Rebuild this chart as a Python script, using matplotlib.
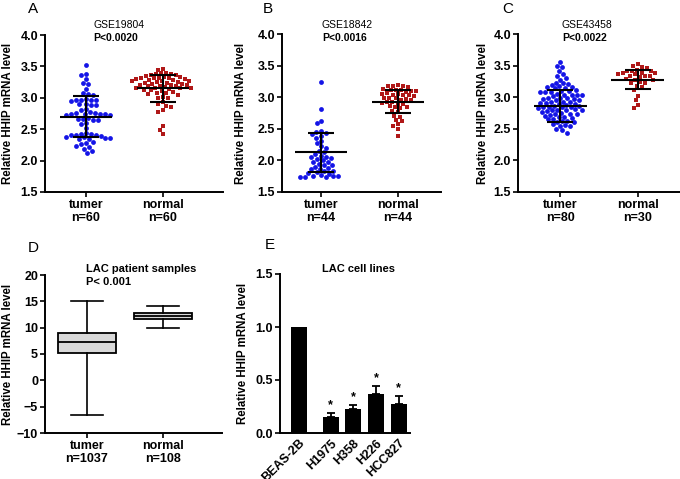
import numpy as np
import matplotlib
matplotlib.use("Agg")
import matplotlib.pyplot as plt

# figure size in pixels (dpi 100)
W, H = 680, 479
plt.rcParams['font.family'] = ['Liberation Sans', 'DejaVu Sans']
plt.rcParams['font.weight'] = 'bold'

BLUE = "#1414e6"
RED = "#b01818"

# ---------------- data ----------------
groups = ["tumer", "normal"]

# A: GSE19804
A_counts = ["n=60", "n=60"]
A_tumer = [3.53, 3.38, 3.36, 3.30, 3.24, 3.22, 3.14, 3.08, 3.06, 3.04,
           2.98, 2.97, 2.97, 2.96, 2.96, 2.95, 2.90, 2.90, 2.89, 2.88,
           2.82, 2.80, 2.77, 2.76, 2.76, 2.75, 2.75, 2.74, 2.74, 2.73,
           2.72, 2.68, 2.67, 2.66, 2.65, 2.64, 2.60, 2.59, 2.52, 2.44,
           2.43, 2.42, 2.41, 2.40, 2.40, 2.39, 2.38, 2.37, 2.36, 2.36,
           2.35, 2.34, 2.30, 2.28, 2.26, 2.24, 2.22, 2.18, 2.16, 2.12]
A_normal = [3.46, 3.45,
            3.40, 3.39, 3.38, 3.38, 3.37, 3.36,
            3.34, 3.33, 3.33, 3.32, 3.32, 3.31, 3.31, 3.30, 3.30,
            3.28, 3.28, 3.27, 3.27, 3.26, 3.25, 3.25, 3.24, 3.24,
            3.22, 3.22, 3.21, 3.20, 3.20, 3.19, 3.18, 3.18, 3.17,
            3.16, 3.16, 3.15, 3.15, 3.14, 3.13, 3.12, 3.11,
            3.09, 3.08, 3.07, 3.06, 3.05,
            3.01, 3.00, 2.99,
            2.93, 2.90, 2.87, 2.85, 2.80, 2.78,
            2.55, 2.49, 2.43]
A_mean = [2.70, 3.15]
A_sd = [0.325, 0.21]

# B: GSE18842
B_counts = ["n=44", "n=44"]
B_tumer = [3.24, 2.82, 2.62, 2.59, 2.46, 2.45, 2.44, 2.42, 2.38, 2.36, 2.30,
           2.27, 2.22, 2.20, 2.15, 2.13, 2.10, 2.07, 2.06, 2.05, 2.04, 2.02,
           2.00, 1.98, 1.97, 1.95, 1.93, 1.92, 1.90, 1.88, 1.87, 1.86, 1.84,
           1.83, 1.81, 1.80, 1.79, 1.77, 1.76, 1.76, 1.75, 1.74, 1.74, 1.73]
B_normal = [3.19, 3.18, 3.18, 3.17, 3.16,
            3.13, 3.12, 3.11, 3.11, 3.10, 3.10, 3.09,
            3.06, 3.05, 3.05, 3.04, 3.03, 3.03, 3.02,
            2.99, 2.98, 2.98, 2.97, 2.96, 2.96,
            2.93, 2.92, 2.91, 2.90, 2.89,
            2.86, 2.85, 2.84, 2.83,
            2.78, 2.76, 2.71, 2.69, 2.64, 2.62, 2.57, 2.55, 2.49, 2.39]
B_mean = [2.13, 2.93]
B_sd = [0.31, 0.18]

# C: GSE43458
C_counts = ["n=80", "n=30"]
C_tumer = [3.56, 3.50, 3.47, 3.41, 3.36, 3.34, 3.30, 3.28,
           3.23, 3.22, 3.21, 3.20, 3.17, 3.16, 3.16, 3.15, 3.14,
           3.11, 3.10, 3.10, 3.09, 3.09, 3.08,
           3.05, 3.04, 3.04, 3.03, 3.03, 3.02,
           2.99, 2.98, 2.98, 2.97, 2.97, 2.96, 2.95,
           2.93, 2.92, 2.92, 2.91, 2.91, 2.90, 2.89,
           2.87, 2.86, 2.86, 2.85, 2.85, 2.84, 2.84, 2.83,
           2.81, 2.80, 2.80, 2.79, 2.79, 2.78, 2.77,
           2.75, 2.74, 2.74, 2.73, 2.72, 2.71,
           2.69, 2.68, 2.67, 2.66, 2.65,
           2.63, 2.62, 2.61, 2.60,
           2.57, 2.56, 2.55, 2.54,
           2.50, 2.48, 2.44]
C_normal = [3.52, 3.50, 3.47, 3.46, 3.43, 3.42, 3.42, 3.41, 3.39, 3.38,
            3.38, 3.37, 3.36, 3.34, 3.33, 3.33, 3.32, 3.29, 3.28, 3.27,
            3.24, 3.23, 3.22, 3.18, 3.16, 3.12, 3.02, 2.95, 2.88, 2.83]
C_mean = [2.86, 3.28]
C_sd = [0.25, 0.15]

# D: LAC patient samples (box plot)
D_counts = ["n=1037", "n=108"]
D_whislo = [-6.6, 10.0]
D_q1 = [5.2, 11.7]
D_med = [7.2, 12.2]
D_q3 = [9.0, 12.8]
D_whishi = [15.1, 14.1]

# E: LAC cell lines (bar chart)
E_lines = ["BEAS-2B", "H1975", "H358", "H226", "HCC827"]
E_values = [1.0, 0.155, 0.225, 0.365, 0.27]
E_err = [0.0, 0.032, 0.04, 0.078, 0.078]
E_star = [False, True, True, True, True]

# ---------------- layout helpers ----------------
fig = plt.figure(figsize=(W / 100, H / 100), dpi=100)


def px_axes(left, top, right, bottom):
    return fig.add_axes([left / W, 1 - bottom / H, (right - left) / W, (bottom - top) / H])


def px_text(x, y, s, **kw):
    fig.text(x / W, 1 - y / H, s, **kw)


def style_axes(ax, ylabel_x_px, left_px, width_px):
    for side in ("top", "right"):
        ax.spines[side].set_visible(False)
    for side in ("left", "bottom"):
        ax.spines[side].set_linewidth(1.4)
    ax.tick_params(axis="both", direction="out", length=3.5, width=1.2, pad=1.5,
                   labelsize=9)
    ax.set_ylabel("Relative HHIP mRNA level", fontsize=8.3, fontweight="bold")
    # label x is the right edge of the rotated text
    ax.yaxis.set_label_coords((ylabel_x_px - left_px) / width_px, 0.5)


def swarm_offsets(vals, ypx, xpx, d):
    """simple beeswarm: x offsets (data units) so dots don't overlap"""
    vals = np.asarray(vals, dtype=float)
    offs = np.zeros(len(vals))
    placed = []
    cands = sorted(np.arange(-40, 40.5, 0.5), key=lambda c: (abs(c), c))
    for i in np.argsort(vals)[::-1]:
        y = vals[i] * ypx
        for c in cands:
            if all((c - px) ** 2 + (y - py) ** 2 >= d * d for px, py in placed):
                break
        offs[i] = c / xpx
        placed.append((c, y))
    return offs


def scatter_panel(box, xlim, tumer, normal, means, sds, counts, ylabel_x):
    left, top, right, bottom = box
    ax = px_axes(*box)
    ax.set_ylim(1.5, 4.0)
    ax.set_xlim(*xlim)
    xpx = (right - left) / (xlim[1] - xlim[0])
    ypx = (bottom - top) / 2.5
    for x, vals, col, mk in [(0, tumer, BLUE, "o"), (1, normal, RED, "s")]:
        offs = swarm_offsets(vals, ypx, xpx, 4.8)
        ax.scatter(x + offs, vals, s=12 if mk == "o" else 10, c=col, marker=mk,
                   linewidths=0, zorder=2, clip_on=False)
    for x, m, sd in zip([0, 1], means, sds):
        ax.hlines(m, x - 0.34, x + 0.34, color="black", lw=1.5, zorder=3)
        ax.hlines([m - sd, m + sd], x - 0.17, x + 0.17, color="black", lw=1.5, zorder=3)
        ax.vlines(x, m - sd, m + sd, color="black", lw=1.5, zorder=3)
    ax.set_yticks([1.5, 2.0, 2.5, 3.0, 3.5, 4.0])
    ax.set_yticklabels(["1.5", "2.0", "2.5", "3.0", "3.5", "4.0"])
    ax.set_xticks([0, 1])
    ax.set_xticklabels([g + "\n" + n for g, n in zip(groups, counts)],
                       fontsize=9, linespacing=1.15)
    style_axes(ax, ylabel_x, left, right - left)
    return ax


# ---------------- panels A, B, C ----------------
scatter_panel((45, 35, 223, 192), (-0.53, 1.78), A_tumer, A_normal, A_mean, A_sd, A_counts, 14)
scatter_panel((282, 34, 441, 192), (-0.51, 1.56), B_tumer, B_normal, B_mean, B_sd, B_counts, 247)
scatter_panel((518, 34, 680, 192), (-0.54, 1.54), C_tumer, C_normal, C_mean, C_sd, C_counts, 489)

# ---------------- panel D ----------------
axD = px_axes(45, 275, 222, 433)
stats = [dict(whislo=D_whislo[i], q1=D_q1[i], med=D_med[i], q3=D_q3[i],
              whishi=D_whishi[i], fliers=[]) for i in range(2)]
axD.bxp(stats, positions=[0, 1], widths=0.76, capwidths=0.42, patch_artist=True,
        showfliers=False,
        boxprops=dict(facecolor="#d9d9d9", edgecolor="black", linewidth=1.3),
        medianprops=dict(color="black", linewidth=1.3),
        whiskerprops=dict(color="black", linewidth=1.2),
        capprops=dict(color="black", linewidth=1.2))
axD.set_ylim(-10, 20)
axD.set_xlim(-0.55, 1.78)
axD.set_yticks([-10, -5, 0, 5, 10, 15, 20])
axD.set_xticks([0, 1])
axD.set_xticklabels([g + "\n" + n for g, n in zip(groups, D_counts)],
                    fontsize=9, linespacing=1.15)
style_axes(axD, 14, 45, 177)

# ---------------- panel E ----------------
axE = px_axes(280, 274, 410, 433)
xpos = np.arange(len(E_lines)) + 0.39 * (np.arange(len(E_lines)) > 0)
axE.bar(xpos, E_values, width=0.7, color="black", zorder=2)
axE.errorbar(xpos[1:], E_values[1:], yerr=[np.zeros(4), E_err[1:]], fmt="none",
             ecolor="black", elinewidth=1.3, capsize=3.2, capthick=1.3, zorder=2)
for x, v, e, star in zip(xpos, E_values, E_err, E_star):
    if star:
        axE.text(x, v + e + 0.015, "*", ha="center", va="bottom", fontsize=9)
axE.set_ylim(0, 1.5)
axE.set_xlim(-0.84, 4.89)
axE.set_yticks([0.0, 0.5, 1.0, 1.5])
axE.set_yticklabels(["0.0", "0.5", "1.0", "1.5"])
axE.set_xticks(xpos)
axE.set_xticklabels(E_lines, rotation=45, ha="right", rotation_mode="anchor", fontsize=7.3)
style_axes(axE, 249, 280, 130)
axE.tick_params(axis="x", length=0, pad=3)

# ---------------- titles and panel letters ----------------
px_text(93, 25, "GSE19804", fontsize=7.5, fontweight="normal", va="center")
px_text(93, 38, "P<0.0020", fontsize=7.5, va="center")
px_text(322, 25, "GSE18842", fontsize=7.5, fontweight="normal", va="center")
px_text(322, 38, "P<0.0016", fontsize=7.5, va="center")
px_text(562, 25, "GSE43458", fontsize=7.5, fontweight="normal", va="center")
px_text(562, 38, "P<0.0022", fontsize=7.5, va="center")
px_text(86, 269, "LAC patient samples", fontsize=8, va="center")
px_text(86, 282, "P< 0.001", fontsize=8, va="center")
px_text(322, 269, "LAC cell lines", fontsize=8, va="center")

for letter, x, y in [("A", 33, 9), ("B", 268, 9), ("C", 508, 9), ("D", 33, 248), ("E", 270, 245)]:
    px_text(x, y, letter, fontsize=11, fontweight="normal", ha="center", va="center")

fig.savefig("out.png", dpi=100)
